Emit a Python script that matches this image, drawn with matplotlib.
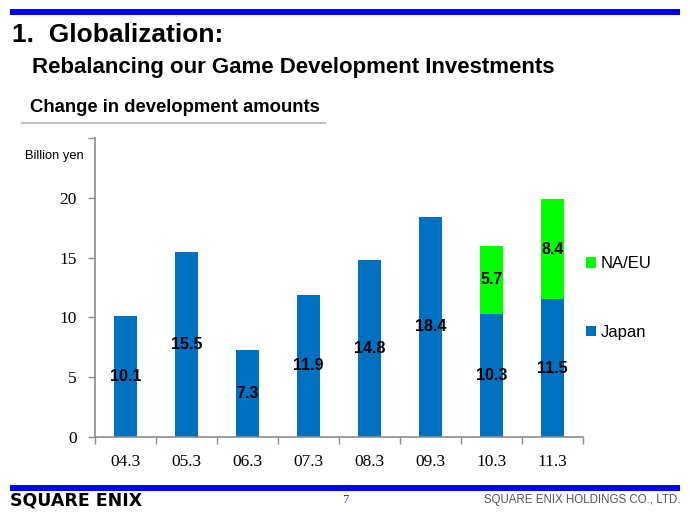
import matplotlib.pyplot as plt
from matplotlib.patches import Rectangle
from matplotlib.lines import Line2D
import numpy as np

years = ['04.3', '05.3', '06.3', '07.3', '08.3', '09.3', '10.3', '11.3']
japan = [10.1, 15.5, 7.3, 11.9, 14.8, 18.4, 10.3, 11.5]
naeu = [0, 0, 0, 0, 0, 0, 5.7, 8.4]

blue = '#0070C0'
green = '#00FF00'
grey = '#8C8C8C'
sans = ['Liberation Sans', 'DejaVu Sans']
serif = ['Liberation Serif', 'DejaVu Serif']

fig = plt.figure(figsize=(6.9, 5.17), dpi=100)

# slide decorations
fig.add_artist(Rectangle((10/690, 1-15/517), 670/690, 6/517, transform=fig.transFigure,
                         color='#0000FF', lw=0))
fig.add_artist(Rectangle((10/690, 1-491/517), 670/690, 6/517, transform=fig.transFigure,
                         color='#0000FF', lw=0))
fig.add_artist(Line2D([22/690, 325/690], [1-123/517, 1-123/517], transform=fig.transFigure,
                      color='#C0C0C0', lw=1.5))

fig.text(12/690, 1-35/517, '1.  Globalization:', fontsize=19, fontweight='bold',
         family=sans, va='center', ha='left')
fig.text(32/690, 1-68/517, 'Rebalancing our Game Development Investments', fontsize=16,
         fontweight='bold', family=sans, va='center', ha='left')
fig.text(30/690, 1-107/517, 'Change in development amounts', fontsize=13.3,
         fontweight='bold', family=sans, va='center', ha='left')
fig.text(25/690, 1-156/517, 'Billion yen', fontsize=9.3, family=sans, va='center', ha='left')

fig.text(10/690, 1-501/517, 'SQUARE ENIX', fontsize=12.5, fontweight='heavy',
         family=['DejaVu Sans'], va='center', ha='left')
fig.text(345/690, 1-500/517, '7', fontsize=9, family=serif, color='#3333AA',
         va='center', ha='center')
fig.text(680/690, 1-500/517, 'SQUARE ENIX HOLDINGS CO., LTD.', fontsize=8.3, family=sans,
         color='#555555', va='center', ha='right')

# chart
ax = fig.add_axes([95/690, 1-437/517, 488/690, 299/517])
x = np.arange(len(years))
w = 0.39
b1 = ax.bar(x, japan, w, color=blue, linewidth=0, label='Japan', zorder=2)
b2 = ax.bar(x, naeu, w, bottom=japan, color=green, linewidth=0, label='NA/EU', zorder=2)

for i in range(len(years)):
    ax.text(x[i], japan[i] / 2, f'{japan[i]:.1f}', ha='center', va='center',
            fontsize=11.5, fontweight='bold', family=sans, zorder=3)
    if naeu[i] > 0:
        ax.text(x[i], japan[i] + naeu[i] / 2, f'{naeu[i]:.1f}', ha='center', va='center',
                fontsize=11.5, fontweight='bold', family=sans, zorder=3)

ax.set_xlim(-0.5, len(years) - 0.5)
ax.set_ylim(0, 25)
ax.set_yticks([0, 5, 10, 15, 20, 25])
ax.set_yticklabels(['0', '5', '10', '15', '20', ''])
ax.set_xticks(x)
ax.set_xticklabels(years)
ax.set_xticks(np.arange(-0.5, len(years)), minor=True)
ax.tick_params(axis='x', which='major', length=0, pad=12)
ax.tick_params(axis='x', which='minor', length=5, color=grey, width=1)
ax.tick_params(axis='y', length=5, color=grey, width=1, pad=8)
for lab in ax.get_xticklabels() + ax.get_yticklabels():
    lab.set_family(serif)
    lab.set_fontsize(12.5)
for s in ['top', 'right']:
    ax.spines[s].set_visible(False)
for s in ['left', 'bottom']:
    ax.spines[s].set_color(grey)
    ax.spines[s].set_linewidth(1.2)

handles = [b2, b1]
fig.legend(handles, ['NA/EU', 'Japan'], loc='center left',
           bbox_to_anchor=(586/690, 1-298/517), frameon=False,
           prop={'family': sans, 'size': 12}, handlelength=0.6, handleheight=0.6,
           handletextpad=0.3, labelspacing=3.2, borderpad=0, borderaxespad=0)

fig.savefig('out.png', dpi=100)
